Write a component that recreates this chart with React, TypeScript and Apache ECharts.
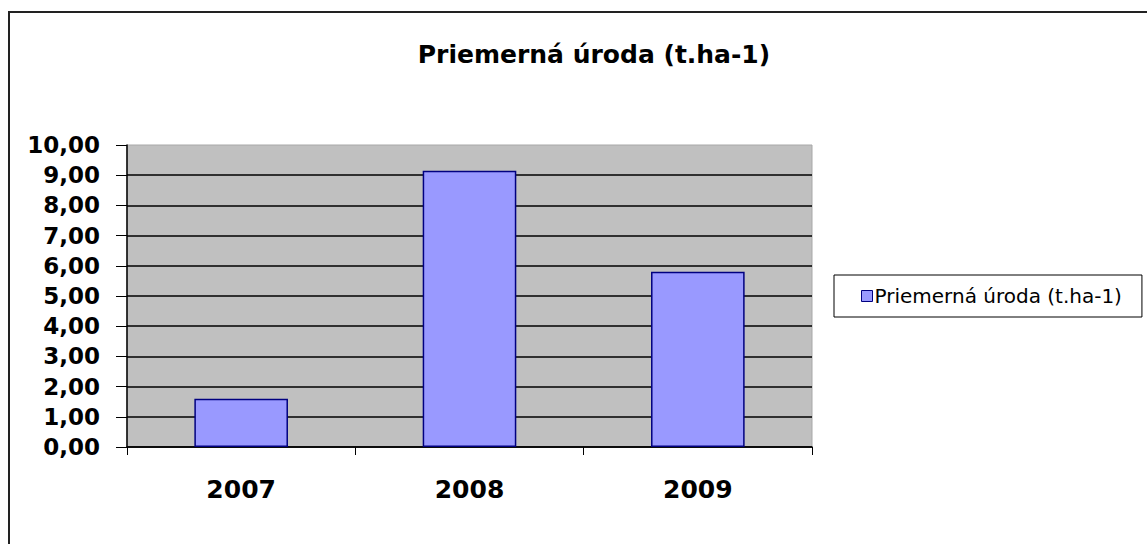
import React, { useEffect, useRef } from "react";
import * as echarts from "echarts";

const categories = ["2007", "2008", "2009"];
const values = [1.6, 9.15, 5.8];
const seriesName = "Priemerná úroda (t.ha-1)";
const titleText = "Priemerná úroda (t.ha-1)";
const yMin = 0;
const yMax = 10;
const yInterval = 1;

const BOLD_FONT = "'DejaVu Sans', Arial, sans-serif";
const LEGEND_FONT = "'DejaVu Sans', Arial, sans-serif";

export default function App() {
  const ref = useRef<HTMLDivElement>(null);
  useEffect(() => {
    if (!ref.current) return;
    const chart = echarts.init(ref.current, null, { renderer: "svg" });
    const splitColors = [];
    for (let v = yMin; v <= yMax; v += yInterval) {
      splitColors.push(v === yMax ? "rgba(0,0,0,0)" : "#000000");
    }
    chart.setOption({
      animation: false,
      backgroundColor: "#ffffff",
      textStyle: { fontFamily: BOLD_FONT },
      graphic: [
        {
          type: "rect",
          shape: { x: 9, y: 12, width: 1200, height: 600 },
          style: { fill: "none", stroke: "#222222", lineWidth: 2 },
          silent: true,
        },
      ],
      title: {
        text: titleText,
        left: 589,
        textAlign: "center",
        top: 37,
        textStyle: {
          fontFamily: BOLD_FONT,
          fontSize: 25,
          fontWeight: "bold",
          color: "#000000",
        },
      },
      legend: {
        show: true,
        left: 834,
        top: 275,
        orient: "vertical",
        padding: [11, 20, 11, 27],
        borderColor: "#000000",
        borderWidth: 1,
        itemWidth: 11,
        itemHeight: 11,
        itemGap: 0,
        icon: "rect",
        textStyle: {
          fontFamily: LEGEND_FONT,
          fontSize: 20,
          color: "#000000",
          padding: [0, 0, 0, -3],
        },
        data: [
          {
            name: seriesName,
            itemStyle: { color: "#9999ff", borderColor: "#000080", borderWidth: 1 },
          },
        ],
      },
      grid: {
        left: 127,
        right: 335,
        top: 145,
        bottom: 97,
        show: true,
        backgroundColor: "#c0c0c0",
        borderColor: "#a8a8a8",
        borderWidth: 1,
        containLabel: false,
      },
      xAxis: {
        type: "category",
        data: categories,
        axisLine: { show: true, lineStyle: { color: "#000000", width: 1.5 } },
        axisTick: { show: true, interval: 0, length: 8, lineStyle: { color: "#000000", width: 1 } },
        axisLabel: {
          margin: 30,
          fontFamily: BOLD_FONT,
          fontSize: 25,
          fontWeight: "bold",
          color: "#000000",
        },
        splitLine: { show: false },
      },
      yAxis: {
        type: "value",
        min: yMin,
        max: yMax,
        interval: yInterval,
        axisLine: { show: true, lineStyle: { color: "#000000", width: 1.5 } },
        axisTick: { show: true, length: 11, lineStyle: { color: "#000000", width: 1 } },
        axisLabel: {
          margin: 27,
          fontFamily: BOLD_FONT,
          fontSize: 23,
          fontWeight: "bold",
          color: "#000000",
          formatter: (v: number) => v.toFixed(2).replace(".", ","),
        },
        splitLine: { show: true, lineStyle: { color: splitColors, width: 1.5 } },
      },
      series: [
        {
          name: seriesName,
          type: "bar",
          data: values,
          barCategoryGap: "59%",
          itemStyle: { color: "#9999ff", borderColor: "#000080", borderWidth: 1.5 },
        },
      ],
    });
    return () => chart.dispose();
  }, []);
  return (
    <div
      ref={ref}
      style={{ position: "fixed", left: 0, top: 0, width: 1147, height: 544 }}
    />
  );
}
